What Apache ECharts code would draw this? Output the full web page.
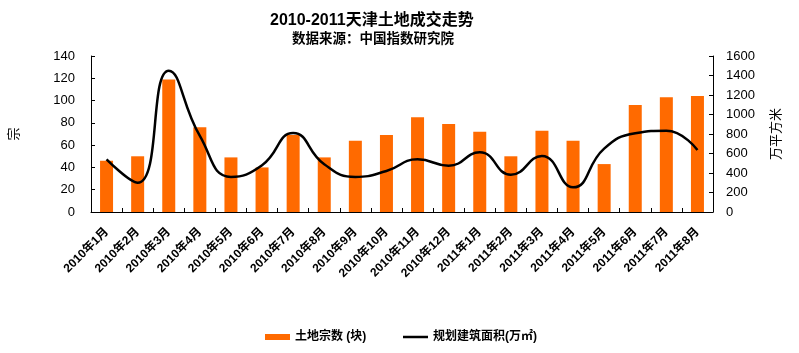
<!DOCTYPE html>
<html><head><meta charset="utf-8">
<script src="https://cdn.jsdelivr.net/npm/echarts@6/dist/echarts.min.js"></script>
<style>html,body{margin:0;padding:0;background:#fff}#c{width:799px;height:353px}</style>
</head><body><div id="c"></div>
<script>
const categories = ['2010年1月','2010年2月','2010年3月','2010年4月','2010年5月','2010年6月','2010年7月','2010年8月','2010年9月','2010年10月','2010年11月','2010年12月','2011年1月','2011年2月','2011年3月','2011年4月','2011年5月','2011年6月','2011年7月','2011年8月'];
const landCount = [46,50,119,76,49,40,69,49,64,69,85,79,72,50,73,64,43,96,103,104];
const buildArea = [540,300,1450,780,360,480,810,490,360,420,540,475,612,383,574,253,650,807,834,636];
const leftTicks = {min:0,max:140,interval:20};
const rightTicks = {min:0,max:1600,interval:200};
const FONT = 'Arial, "Liberation Sans", "Noto Sans CJK SC", sans-serif';
const legendText = {fontSize:12,fontWeight:'bold',color:'#000',fontFamily:FONT};
const chart = echarts.init(document.getElementById('c'));
chart.setOption({
  backgroundColor:'#fff',
  animation:false,
  textStyle:{fontFamily:FONT},
  title:[
    {text:'2010-2011天津土地成交走势',left:265,top:8,textStyle:{fontSize:16,fontWeight:'bold',color:'#000',fontFamily:FONT}},
    {text:'数据来源：中国指数研究院',left:287,top:28,textStyle:{fontSize:13.5,fontWeight:'bold',color:'#000',fontFamily:FONT}}
  ],
  grid:{left:89,right:86,top:56,bottom:141},
  legend:[
    {left:260,top:326,itemWidth:25,itemHeight:6,textStyle:legendText,
     data:[{name:'土地宗数 (块)',icon:'rect'}]},
    {left:398,top:326,itemWidth:25,itemHeight:2.5,textStyle:legendText,
     data:[{name:'规划建筑面积(万㎡)',icon:'rect',itemStyle:{color:'#000'}}]}
  ],
  xAxis:{
    type:'category',data:categories,boundaryGap:true,
    axisLine:{lineStyle:{color:'#000',width:1}},
    axisTick:{show:true,inside:true,length:4,lineStyle:{color:'#000'}},
    axisLabel:{rotate:45,interval:0,margin:18,fontSize:12,fontWeight:'bold',color:'#000',fontFamily:FONT}
  },
  yAxis:[
    {type:'value',min:leftTicks.min,max:leftTicks.max,interval:leftTicks.interval,
     name:'宗',nameLocation:'middle',nameGap:70,nameRotate:90,
     nameTextStyle:{fontSize:13,color:'#000',fontFamily:FONT},
     axisLine:{show:true,lineStyle:{color:'#000'}},
     axisTick:{show:true,inside:true,length:4,lineStyle:{color:'#000'}},
     splitLine:{show:false},
     axisLabel:{fontSize:13,color:'#000',margin:16,fontFamily:FONT}},
    {type:'value',min:rightTicks.min,max:rightTicks.max,interval:rightTicks.interval,
     name:'万平方米',nameLocation:'middle',nameGap:57,nameRotate:90,
     nameTextStyle:{fontSize:13,color:'#000',fontFamily:FONT},
     axisLine:{show:true,lineStyle:{color:'#000'}},
     axisTick:{show:true,inside:true,length:4,lineStyle:{color:'#000'}},
     splitLine:{show:false},
     axisLabel:{fontSize:13,color:'#000',margin:13,fontFamily:FONT,formatter:function(v){return String(v);}}}
  ],
  series:[
    {name:'土地宗数 (块)',type:'bar',data:landCount,barWidth:13,itemStyle:{color:'#FF6A00'}},
    {name:'规划建筑面积(万㎡)',type:'line',yAxisIndex:1,data:buildArea,smooth:0.5,symbol:'none',
     lineStyle:{color:'#000',width:2.5},itemStyle:{color:'#000'}}
  ]
});
</script></body></html>
